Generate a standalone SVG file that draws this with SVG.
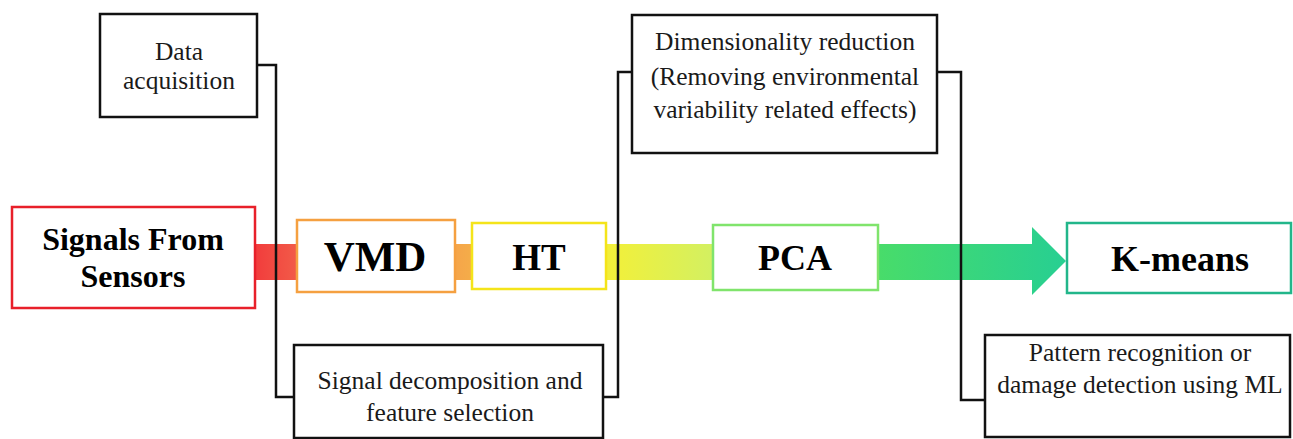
<svg xmlns="http://www.w3.org/2000/svg" width="1293" height="439" viewBox="0 0 1293 439">
<defs>
<linearGradient id="flow" gradientUnits="userSpaceOnUse" x1="255" y1="0" x2="1066" y2="0">
<stop offset="0" stop-color="#f23c3c"/>
<stop offset="0.05" stop-color="#f25a48"/>
<stop offset="0.25" stop-color="#f5a64a"/>
<stop offset="0.44" stop-color="#f2f03a"/>
<stop offset="0.56" stop-color="#d4f060"/>
<stop offset="0.77" stop-color="#48dc6a"/>
<stop offset="1" stop-color="#27cf92"/>
</linearGradient>
</defs>
<style>
.box{fill:#fff;stroke:#111;stroke-width:2.5}
.main{fill:#fff;stroke-width:2.5}
.big{font-family:"Liberation Serif","Times New Roman",serif;font-weight:bold;fill:#000;text-anchor:middle}
.small{font-family:"Liberation Serif","Times New Roman",serif;font-size:25.5px;fill:#1a1a1a;text-anchor:middle}
.conn{fill:none;stroke:#111;stroke-width:2.5}
</style>
<rect width="1293" height="439" fill="#fff"/>
<g id="flow-arrow">
<path d="M255 244 H1032 V227 L1066 261 L1032 295 V280 H255 Z" fill="url(#flow)"/>
</g>
<g id="connectors">
<path class="conn" d="M257 65 H276 V397 H294"/>
<path class="conn" d="M603 397 H618 V72 H632"/>
<path class="conn" d="M937 72 H961 V400 H985"/>
</g>
<g id="signals">
<rect class="main" x="12" y="207" width="243" height="101" stroke="#e8202a"/>
<text class="big" font-size="32" x="133" y="250">Signals From</text>
<text class="big" font-size="32" x="133" y="287">Sensors</text>
</g>
<g id="vmd">
<rect class="main" x="297" y="220" width="158" height="72" stroke="#f5a040"/>
<text class="big" font-size="43" x="375" y="271">VMD</text>
</g>
<g id="ht">
<rect class="main" x="472" y="223" width="134" height="66" stroke="#f4e41a"/>
<text class="big" font-size="37" x="539" y="270">HT</text>
</g>
<g id="pca">
<rect class="main" x="713" y="225" width="165" height="65" stroke="#80e46c"/>
<text class="big" font-size="36" x="795" y="270">PCA</text>
</g>
<g id="kmeans">
<rect class="main" x="1067" y="223" width="224" height="70" stroke="#22b68a"/>
<text class="big" font-size="36" x="1180" y="271">K-means</text>
</g>
<g id="data-acquisition">
<rect class="box" x="100" y="14" width="157" height="103"/>
<text class="small" x="179" y="60">Data</text>
<text class="small" x="179" y="89">acquisition</text>
</g>
<g id="dimensionality">
<rect class="box" x="632" y="15" width="305" height="138"/>
<text class="small" x="785" y="50">Dimensionality reduction</text>
<text class="small" x="785" y="85">(Removing environmental</text>
<text class="small" x="785" y="118">variability related effects)</text>
</g>
<g id="signal-decomposition">
<rect class="box" x="294" y="345" width="309" height="93"/>
<text class="small" x="450" y="389">Signal decomposition and</text>
<text class="small" x="450" y="421">feature selection</text>
</g>
<g id="pattern-recognition">
<rect class="box" x="985" y="335" width="305" height="102"/>
<text class="small" x="1140" y="361">Pattern recognition or</text>
<text class="small" x="1140" y="393">damage detection using ML</text>
</g>
</svg>
